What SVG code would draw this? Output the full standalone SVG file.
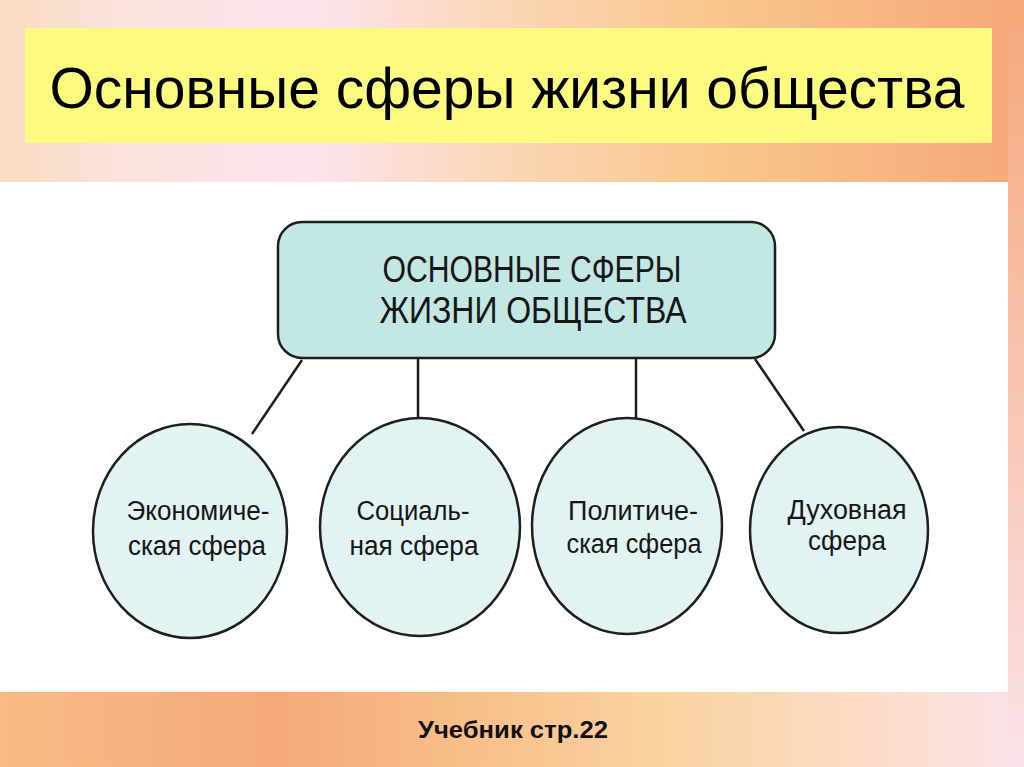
<svg xmlns="http://www.w3.org/2000/svg" width="1024" height="767" viewBox="0 0 1024 767">
  <defs>
    <linearGradient id="gTop" x1="0" y1="0" x2="1" y2="0">
      <stop offset="0" stop-color="#f9dcc2"/>
      <stop offset="0.12" stop-color="#fbe2dc"/>
      <stop offset="0.3" stop-color="#fce4ee"/>
      <stop offset="0.5" stop-color="#fbd6b4"/>
      <stop offset="0.7" stop-color="#f9c68c"/>
      <stop offset="1" stop-color="#f6a77a"/>
    </linearGradient>
    <linearGradient id="gBot" x1="0" y1="0" x2="1" y2="0">
      <stop offset="0" stop-color="#f8bb86"/>
      <stop offset="0.27" stop-color="#f6a97b"/>
      <stop offset="0.45" stop-color="#f8be88"/>
      <stop offset="0.65" stop-color="#fad3a0"/>
      <stop offset="0.85" stop-color="#fcdcc8"/>
      <stop offset="1" stop-color="#fbe2e8"/>
    </linearGradient>
    <linearGradient id="gRight" x1="0" y1="0" x2="0" y2="1">
      <stop offset="0" stop-color="#f6a77a"/>
      <stop offset="1" stop-color="#fbe2e8"/>
    </linearGradient>
    <style>
      .node { stroke: #1e1e1e; stroke-width: 2.5; }
      .box { fill: #c3e7e3; }
      .ell { fill: #e2f3f3; }
      .lbl { font-family: "Liberation Sans", Arial, sans-serif; font-size: 27px; fill: #161616; text-anchor: middle; }
      .head { font-family: "Liberation Sans", Arial, sans-serif; font-size: 37px; fill: #161616; text-anchor: middle; }
      .conn { stroke: #1e1e1e; stroke-width: 2.5; fill: none; }
    </style>
  </defs>

  <!-- background -->
  <rect x="0" y="0" width="1024" height="767" fill="url(#gTop)"/>
  <rect x="0" y="182" width="1024" height="585" fill="url(#gBot)"/>
  <rect x="1008" y="0" width="16" height="767" fill="url(#gRight)"/>

  <!-- title -->
  <g id="title">
    <rect x="25" y="28" width="967" height="115" fill="#fdfb7f"/>
    <text x="507" y="108" font-family="'Liberation Sans', Arial, sans-serif" font-size="57" fill="#000" text-anchor="middle" textLength="915" lengthAdjust="spacingAndGlyphs">Основные сферы жизни общества</text>
  </g>

  <!-- white panel -->
  <rect x="0" y="182" width="1008" height="510" fill="#ffffff"/>

  <!-- connectors -->
  <g id="connectors" class="conn">
    <line x1="302" y1="360" x2="252" y2="434"/>
    <line x1="418" y1="358" x2="418" y2="420"/>
    <line x1="636" y1="358" x2="636" y2="419"/>
    <line x1="755" y1="359" x2="804" y2="431"/>
  </g>

  <g id="root">
    <rect class="node box" x="278" y="222" width="497" height="136" rx="24" ry="24"/>
    <text class="head" x="532" y="282" textLength="299" lengthAdjust="spacingAndGlyphs">ОСНОВНЫЕ СФЕРЫ</text>
    <text class="head" x="533" y="323" textLength="307" lengthAdjust="spacingAndGlyphs">ЖИЗНИ ОБЩЕСТВА</text>
  </g>

  <g id="economic">
    <ellipse class="node ell" cx="190" cy="531" rx="97" ry="107"/>
    <text class="lbl" x="198" y="520" textLength="143" lengthAdjust="spacingAndGlyphs">Экономиче-</text>
    <text class="lbl" x="197" y="555" textLength="138" lengthAdjust="spacingAndGlyphs">ская сфера</text>
  </g>

  <g id="social">
    <ellipse class="node ell" cx="420" cy="527" rx="100" ry="109"/>
    <text class="lbl" x="413" y="520" textLength="113" lengthAdjust="spacingAndGlyphs">Социаль-</text>
    <text class="lbl" x="414" y="555" textLength="129" lengthAdjust="spacingAndGlyphs">ная сфера</text>
  </g>

  <g id="political">
    <ellipse class="node ell" cx="627" cy="526" rx="95" ry="108"/>
    <text class="lbl" x="633" y="520" textLength="130" lengthAdjust="spacingAndGlyphs">Политиче-</text>
    <text class="lbl" x="634" y="553" textLength="135" lengthAdjust="spacingAndGlyphs">ская сфера</text>
  </g>

  <g id="spiritual">
    <ellipse class="node ell" cx="839" cy="530" rx="89" ry="103"/>
    <text class="lbl" x="847" y="519" textLength="119" lengthAdjust="spacingAndGlyphs">Духовная</text>
    <text class="lbl" x="847" y="550" textLength="78" lengthAdjust="spacingAndGlyphs">сфера</text>
  </g>

  <g id="footer">
    <text x="513" y="738" font-family="'Liberation Sans', Arial, sans-serif" font-size="24" font-weight="bold" fill="#111" text-anchor="middle" textLength="190" lengthAdjust="spacingAndGlyphs">Учебник стр.22</text>
  </g>
</svg>
